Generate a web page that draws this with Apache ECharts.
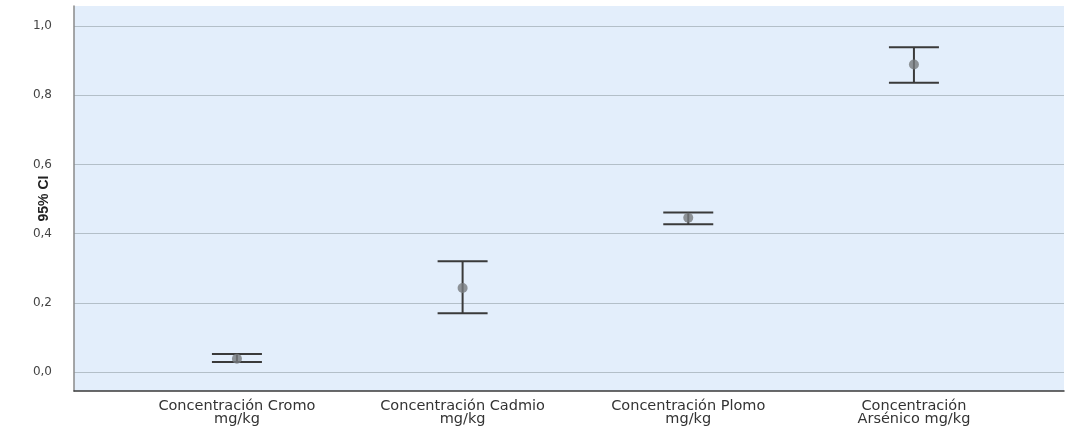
<!DOCTYPE html>
<html><head><meta charset="utf-8">
<script src="https://cdn.jsdelivr.net/npm/echarts@6/dist/echarts.min.js"></script>
<style>html,body{margin:0;padding:0;background:#fff}#c{width:1069px;height:429px}</style>
</head><body><div id="c"></div>
<script>
const categories = ['Concentración Cromo\nmg/kg', 'Concentración Cadmio\nmg/kg', 'Concentración Plomo\nmg/kg', 'Concentración\nArsénico mg/kg'];
const positions = [1, 2, 3, 4];
const means = [0.038, 0.243, 0.446, 0.889];
const lowers = [0.029, 0.170, 0.427, 0.836];
const uppers = [0.052, 0.320, 0.461, 0.939];
const yTicks = [0, 0.2, 0.4, 0.6, 0.8, 1.0];

const chart = echarts.init(document.getElementById('c'), null, {renderer: 'canvas'});
const font = 'DejaVu Sans, Liberation Sans, Arial, sans-serif';
chart.setOption({
  animation: false,
  grid: {left: 74, right: 5, top: 6, bottom: 38, show: true, backgroundColor: '#e3eefb', borderWidth: 0},
  xAxis: {
    type: 'value', min: 0.278, max: 4.665,
    axisLine: {show: true, onZero: false, lineStyle: {color: '#3a3a3a', width: 1.5}},
    axisTick: {show: false},
    splitLine: {show: false},
    axisLabel: {
      customValues: positions, color: '#333', fontFamily: font, fontSize: 14.5, lineHeight: 13, margin: 9,
      formatter: v => categories[positions.indexOf(Math.round(v))] || ''
    }
  },
  yAxis: {
    type: 'value', min: -0.055, max: 1.058,
    name: '95% CI', nameLocation: 'middle', nameGap: 23, nameRotate: 90, nameMoveOverlap: false,
    nameTextStyle: {fontFamily: 'Liberation Sans, Arial, sans-serif', fontSize: 14, fontWeight: 'bold', color: '#222'},
    axisLine: {show: true, lineStyle: {color: '#8a8a8a', width: 1.5}},
    axisTick: {show: false, customValues: yTicks},
    splitLine: {show: true, lineStyle: {color: '#b3bfc8', width: 1}},
    axisLabel: {customValues: yTicks, color: '#444', fontFamily: font, fontSize: 12, margin: 22,
      formatter: v => v.toFixed(1).replace('.', ',')}
  },
  series: [
    {
      type: 'custom',
      data: positions.map((p, i) => [p, lowers[i], uppers[i]]),
      renderItem: (params, api) => {
        const lo = api.coord([api.value(0), api.value(1)]);
        const hi = api.coord([api.value(0), api.value(2)]);
        const hw = 25;
        const st = {stroke: '#3a3a3a', lineWidth: 2};
        return {type: 'group', children: [
          {type: 'line', shape: {x1: lo[0], y1: lo[1], x2: hi[0], y2: hi[1]}, style: st},
          {type: 'line', shape: {x1: lo[0] - hw, y1: lo[1], x2: lo[0] + hw, y2: lo[1]}, style: st},
          {type: 'line', shape: {x1: hi[0] - hw, y1: hi[1], x2: hi[0] + hw, y2: hi[1]}, style: st}
        ]};
      },
      z: 2
    },
    {
      type: 'scatter',
      data: positions.map((p, i) => [p, means[i]]),
      symbolSize: 10,
      itemStyle: {color: '#777a7e'},
      z: 3
    }
  ]
});
</script></body></html>
